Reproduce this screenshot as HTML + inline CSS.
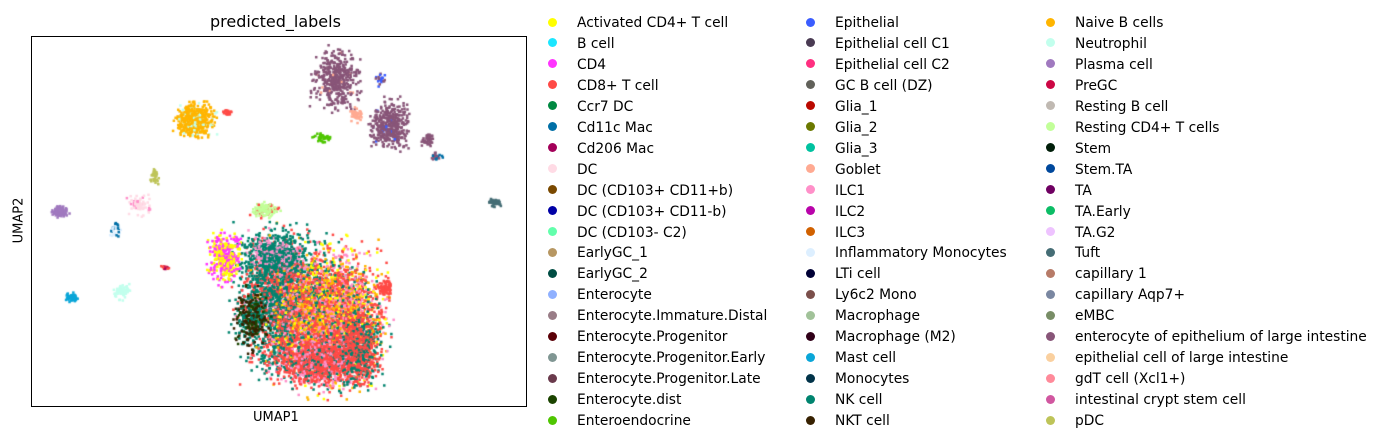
<!DOCTYPE html>
<html><head><meta charset="utf-8"><style>
html,body{margin:0;padding:0;background:#fff;}
body{width:1384px;height:443px;position:relative;overflow:hidden;font-family:"DejaVu Sans","Liberation Sans",sans-serif;color:#000;}
#ax{position:absolute;left:31px;top:36px;width:494px;height:369px;border:1px solid #000;}
canvas{position:absolute;left:0;top:0;}
.t{position:absolute;font-size:16px;}
.lab{position:absolute;font-size:13px;}
.li{position:absolute;font-size:13.8px;white-space:nowrap;line-height:16px;}
.dot{position:absolute;width:9px;height:9px;border-radius:50%;}
</style></head><body>
<canvas id="c" width="1384" height="443"></canvas>
<div id="ax"></div>
<div class="t" style="left:210px;top:12px;">predicted_labels</div>
<div class="lab" style="left:253px;top:410px;">UMAP1</div>
<div class="lab" style="left:-4px;top:213px;transform:rotate(-90deg);">UMAP2</div>
<div id="leg"></div>
<script>
var cols=["#FFFF00","#1CE6FF","#FF34FF","#FF4A46","#008941","#006FA6","#A30059","#FFDBE5","#7A4900","#0000A6","#63FFAC","#B79762","#004D43","#8FB0FF","#997D87","#5A0007","#809693","#6A3A4C","#1B4400","#4FC601","#3B5DFF","#4A3B53","#FF2F80","#61615A","#BA0900","#6B7900","#00C2A0","#FFAA92","#FF90C9","#B903AA","#D16100","#DDEFFF","#000035","#7B4F4B","#A1C299","#300018","#0AA6D8","#013349","#00846F","#372101","#FFB500","#C2FFED","#A079BF","#CC0744","#C0B9B2","#C2FF99","#001E09","#00489C","#6F0062","#0CBD66","#EEC3FF","#456D75","#B77B68","#7A87A1","#788D66","#885578","#FAD09F","#FF8A9A","#D157A0","#BEC459"];
var names=["Activated CD4+ T cell","B cell","CD4","CD8+ T cell","Ccr7 DC","Cd11c Mac","Cd206 Mac","DC","DC (CD103+ CD11+b)","DC (CD103+ CD11-b)","DC (CD103- C2)","EarlyGC_1","EarlyGC_2","Enterocyte","Enterocyte.Immature.Distal","Enterocyte.Progenitor","Enterocyte.Progenitor.Early","Enterocyte.Progenitor.Late","Enterocyte.dist","Enteroendocrine","Epithelial","Epithelial cell C1","Epithelial cell C2","GC B cell (DZ)","Glia_1","Glia_2","Glia_3","Goblet","ILC1","ILC2","ILC3","Inflammatory Monocytes","LTi cell","Ly6c2 Mono","Macrophage","Macrophage (M2)","Mast cell","Monocytes","NK cell","NKT cell","Naive B cells","Neutrophil","Plasma cell","PreGC","Resting B cell","Resting CD4+ T cells","Stem","Stem.TA","TA","TA.Early","TA.G2","Tuft","capillary 1","capillary Aqp7+","eMBC","enterocyte of epithelium of large intestine","epithelial cell of large intestine","gdT cell (Xcl1+)","intestinal crypt stem cell","pDC"];
var h="";
for(var i=0;i<60;i++){var c=Math.floor(i/20),r=i%20;var mx=[552,810,1050][c],tx=[577,835,1075][c];var y=22+r*20.95;
h+='<div class="dot" style="left:'+(mx-4.5)+'px;top:'+(y-4.5)+'px;background:'+cols[i]+'"></div><div class="li" style="left:'+tx+'px;top:'+(y-7)+'px">'+names[i]+'</div>';}
document.getElementById('leg').innerHTML=h;
var s=7;function rnd(){s=(s*16807)%2147483647;return (s-1)/2147483646;}
function g(){return (rnd()+rnd()+rnd()-1.5)/0.75;}
var ctx=document.getElementById('c').getContext('2d');
function cl(cx,cy,rx,ry,n,mix){for(var k=0;k<n;k++){var x=cx+g()*rx,y=cy+g()*ry;if(x<33||x>524||y<38||y>403)continue;var u=rnd(),col=mix[mix.length-1][0];var acc=0;for(var j=0;j<mix.length;j++){acc+=mix[j][1];if(u<acc){col=mix[j][0];break;}}ctx.fillStyle=col;ctx.fillRect(x-1.2,y-1.2,2.5,2.5);}}
var NK="#00846F",CD8="#FF4A46";
cl(280,300,28,45,2400,[["#FF90C9",0.04],["#FFB500",0.02],[CD8,0.3],[NK,1]]);
cl(252,318,12,20,250,[["#1B4400",0.3],["#372101",0.5],[NK,0.8],[CD8,1]]);
cl(330,320,35,45,4000,[[NK,0.12],["#FFFF00",0.13],["#FFB500",0.15],["#FF90C9",0.2],[CD8,1]]);
cl(320,360,30,16,1200,[[NK,0.15],["#FF90C9",0.2],[CD8,1]]);
cl(360,350,14,25,600,[[NK,0.35],[CD8,1]]);
cl(385,288,5,6,80,[[CD8,1]]);
cl(275,255,20,12,500,[["#FF90C9",0.3],[NK,1]]);
cl(225,258,11,17,400,[["#FFFF00",0.5],["#FF34FF",0.8],["#D16100",0.95],["#000035",1]]);
cl(265,210,9,5,150,[["#C2FF99",0.85],[CD8,1]]);
cl(195,120,12,11,650,[["#FFB500",0.85],["#C2FFED",0.92],["#D16100",1]]);
cl(228,113,4,2,20,[["#FF4A46",1]]);
cl(337,80,16,20,420,[["#885578",0.97],["#FFAA92",1]]);
cl(390,125,13,16,400,[["#885578",0.97],["#3B5DFF",1]]);
cl(380,78,5,5,20,[["#885578",0.5],["#3B5DFF",0.8],[CD8,1]]);
cl(428,140,5,4,40,[["#885578",1]]);
cl(437,156,4,3,20,[["#885578",0.7],["#006FA6",1]]);
cl(356,115,4,5,40,[["#FFAA92",1]]);
cl(322,138,6,3,40,[["#4FC601",1]]);
cl(155,175,3,6,35,[["#BEC459",1]]);
cl(140,205,8,7,70,[["#FFDBE5",0.7],["#FF90C9",0.85],["#006FA6",1]]);
cl(115,230,5,6,30,[["#006FA6",0.5],["#DDEFFF",1]]);
cl(60,212,5,4,110,[["#A079BF",1]]);
cl(494,202,6,4,40,[["#456D75",1]]);
cl(72,297,4,3,60,[["#0AA6D8",1]]);
cl(123,292,5,5,80,[["#C2FFED",1]]);
cl(165,268,3,2,15,[["#FF4A46",0.7],["#A30059",1]]);
</script>
</body></html>
